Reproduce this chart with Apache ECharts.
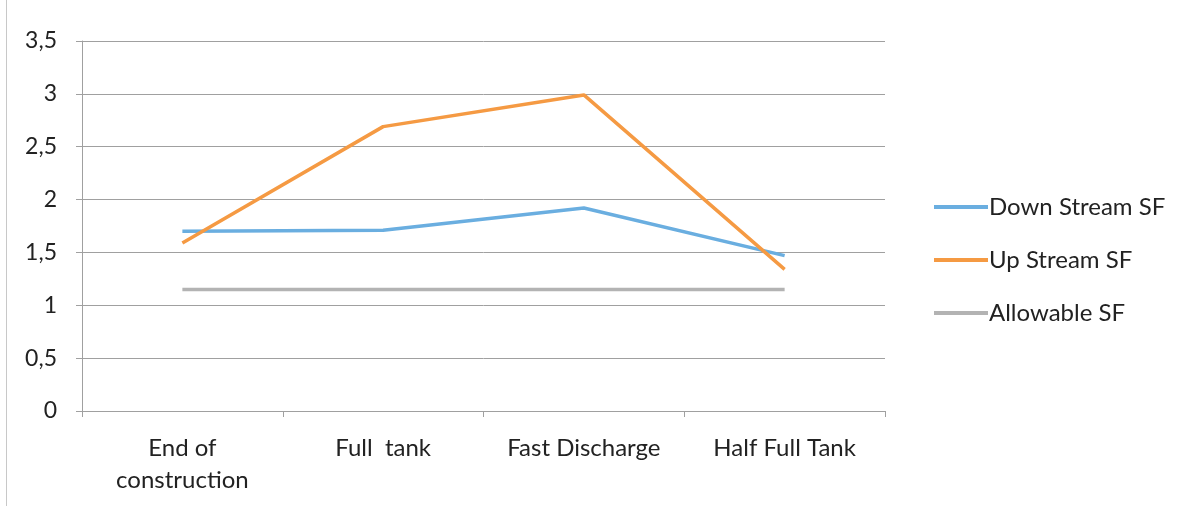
<!DOCTYPE html>
<html>
<head>
<meta charset="utf-8">
<script src="https://cdn.jsdelivr.net/npm/echarts@6/dist/echarts.min.js"></script>
<style>
  html, body { margin: 0; padding: 0; background: #fff; }
  #chart { width: 1198px; height: 506px; }
</style>
</head>
<body>
<div id="chart"></div>
<script>
// Safety factors per load case
const categories = ['End of\nconstruction', 'Full  tank', 'Fast Discharge', 'Half Full Tank'];
const downStreamSF = [1.70, 1.71, 1.92, 1.47];
const upStreamSF = [1.59, 2.69, 2.99, 1.34];
const allowableSF = [1.15, 1.15, 1.15, 1.15];
const seriesNames = ['Down Stream SF', 'Up Stream SF', 'Allowable SF'];

const FONT = 'Lato, "Open Sans", sans-serif';
const chart = echarts.init(document.getElementById('chart'));

function lineSeries(name, data, color) {
  return {
    name: name,
    type: 'line',
    data: data,
    symbol: 'none',
    lineStyle: { color: color, width: 3.5 },
    itemStyle: { color: color },
    emphasis: { disabled: true }
  };
}

chart.setOption({
  animation: false,
  backgroundColor: '#ffffff',
  grid: { left: 82, right: 313, top: 41, bottom: 95 },
  graphic: [
    { type: 'line', shape: { x1: 6.5, y1: 0, x2: 6.5, y2: 506 }, style: { stroke: '#c8c8c8', lineWidth: 1 } }
  ],
  legend: {
    orient: 'vertical',
    left: 929,
    top: 190,
    itemWidth: 54,
    itemHeight: 4,
    itemGap: 29,
    icon: 'rect',
    textStyle: { fontFamily: FONT, fontSize: 24, color: '#222', padding: [0, 0, 0, -4] },
    data: seriesNames
  },
  xAxis: {
    type: 'category',
    data: categories,
    boundaryGap: true,
    axisLine: { lineStyle: { color: '#a0a0a0', width: 1 } },
    axisTick: { show: true, length: 6, lineStyle: { color: '#a0a0a0' } },
    axisLabel: { fontFamily: FONT, fontSize: 24, color: '#222', margin: 21, lineHeight: 32, interval: 0 }
  },
  yAxis: {
    type: 'value',
    min: 0,
    max: 3.5,
    interval: 0.5,
    axisLine: { show: true, lineStyle: { color: '#a0a0a0', width: 1 } },
    axisTick: { show: true, length: 6, lineStyle: { color: '#a0a0a0' } },
    splitLine: { lineStyle: { color: '#a0a0a0', width: 1 } },
    axisLabel: {
      fontFamily: FONT, fontSize: 23, color: '#222', margin: 25,
      formatter: v => String(v).replace('.', ',')
    }
  },
  series: [
    lineSeries(seriesNames[0], downStreamSF, '#6aaee0'),
    lineSeries(seriesNames[1], upStreamSF, '#f59a43'),
    lineSeries(seriesNames[2], allowableSF, '#b3b3b3')
  ]
});
</script>
</body>
</html>
